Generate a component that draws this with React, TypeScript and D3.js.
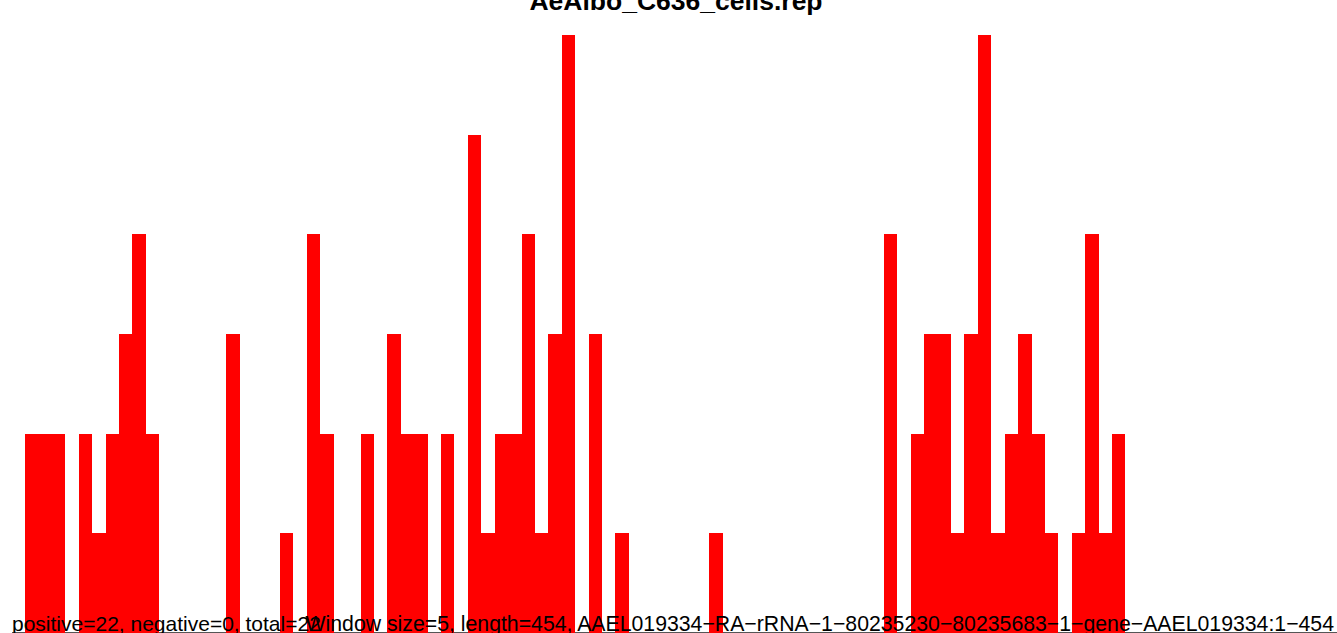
import React from "react";
import * as d3 from "d3";

const TITLE = "AeAlbo_C636_cells.rep";
const LEFT_NOTE = "positive=22, negative=0, total=22";
const RIGHT_NOTE =
  "Window size=5, length=454, AAEL019334\u2212RA\u2212rRNA\u22121\u221280235230\u221280235683\u22121\u2212gene\u2212AAEL019334:1\u2212454";

// counts per window of 5 nt (index = window number)
const windows: number[] = d3.range(91);
const counts: number[] = [
  2, 2, 2, 0, 2, 1, 2, 3, 4, 2,
  0, 0, 0, 0, 0, 3, 0, 0, 0, 1,
  0, 4, 2, 0, 0, 2, 0, 3, 2, 2,
  0, 2, 0, 5, 1, 2, 2, 4, 1, 3,
  6, 0, 3, 0, 1, 0, 0, 0, 0, 0,
  0, 1, 0, 0, 0, 0, 0, 0, 0, 0,
  0, 0, 0, 0, 4, 0, 2, 3, 3, 1,
  3, 6, 1, 2, 3, 2, 1, 0, 1, 4,
  1, 2, 0, 0, 0, 0, 0, 0, 0, 0, 0,
];
const yMax = 6;

const W = 1337;
const H = 633;

export default function App() {
  const x = d3.scaleLinear().domain([0, windows.length]).range([25, 25 + windows.length * 13.42]);
  const y = d3.scaleLinear().domain([0, yMax]).range([633, 35]);
  const font = "'Liberation Sans', Arial, Helvetica, sans-serif";
  return (
    <svg
      width={W}
      height={H}
      style={{ position: "fixed", left: 0, top: 0, background: "#fff" }}
      fontFamily={font}
    >
      <rect x={0} y={0} width={W} height={H} fill="#fff" />
      <line x1={12} x2={W} y1={632.5} y2={632.5} stroke="#555" strokeWidth={1} />
      <g shapeRendering="crispEdges">
        {windows.map((w, i) =>
          counts[i] > 0 ? (
            <rect
              key={w}
              x={x(w)}
              width={x(w + 1) - x(w)}
              y={y(counts[i])}
              height={y(0) - y(counts[i])}
              fill="#ff0000"
            />
          ) : null
        )}
      </g>
      <text x={676} y={9.5} textAnchor="middle" fontWeight="bold" fontSize={26.5} fill="#000">
        {TITLE}
      </text>
      <text x={12} y={631} fontSize={21} fill="#000">
        {LEFT_NOTE}
      </text>
      <text x={1334} y={631} textAnchor="end" fontSize={21.25} fill="#000">
        {RIGHT_NOTE}
      </text>
    </svg>
  );
}
